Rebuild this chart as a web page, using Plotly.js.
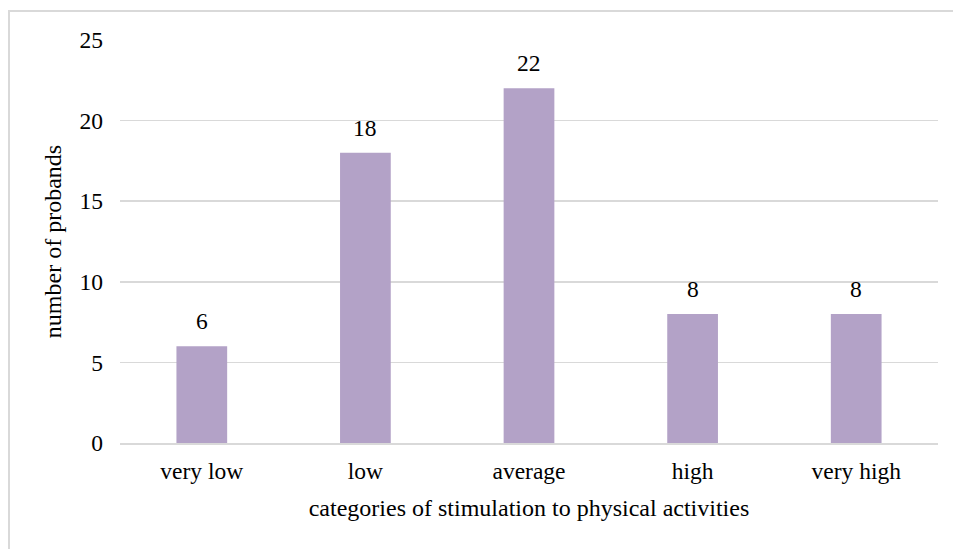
<!DOCTYPE html>
<html>
<head>
<meta charset="utf-8">
<script src="https://cdn.plot.ly/plotly-3.0.1.min.js"></script>
<style>
html,body{margin:0;padding:0;background:#fff;}
#wrap{position:relative;width:953px;height:549px;}
#chart{width:953px;height:549px;}
#frame{position:absolute;left:8px;top:10px;right:-5px;bottom:-5px;border-top:2px solid #d9d9d9;border-left:2px solid #d9d9d9;pointer-events:none;}
</style>
</head>
<body>
<div id="wrap"><div id="chart"></div><div id="frame"></div></div>
<script>
const categories = ["very low", "low", "average", "high", "very high"];
const probands = [6, 18, 22, 8, 8];
const yTicks = [0, 5, 10, 15, 20, 25];

const font = {family: "Times New Roman, Liberation Serif, serif", size: 23.5, color: "#000"};
const titleFont = {family: "Times New Roman, Liberation Serif, serif", size: 24, color: "#000"};

Plotly.newPlot("chart", [{
  type: "bar",
  x: categories,
  y: probands,
  marker: {color: "#b3a2c7"},
  hoverinfo: "skip"
}], {
  width: 953, height: 549,
  margin: {l: 120, r: 15, t: 40, b: 106},
  paper_bgcolor: "#fff", plot_bgcolor: "#fff",
  font: font,
  bargap: 0.69,
  showlegend: false,
  annotations: categories.map((c, i) => ({
    x: c, y: probands[i], xref: "x", yref: "y",
    text: String(probands[i]), showarrow: false,
    yanchor: "bottom", yshift: 10, font: font
  })),
  xaxis: {
    type: "category",
    showgrid: false,
    showline: true, linecolor: "#d9d9d9", linewidth: 1.5,
    ticks: "", tickfont: font, ticklabelstandoff: 6,
    title: {text: "categories of stimulation to physical activities", font: titleFont, standoff: 16}
  },
  yaxis: {
    range: [0, 25],
    tickvals: yTicks,
    showgrid: true, gridcolor: "#d9d9d9", gridwidth: 1.5,
    zeroline: false, showline: false,
    ticks: "", tickfont: font, ticklabelstandoff: 16,
    title: {text: "number of probands", font: titleFont, standoff: 11}
  }
}, {staticPlot: true, displayModeBar: false});
</script>
</body>
</html>
